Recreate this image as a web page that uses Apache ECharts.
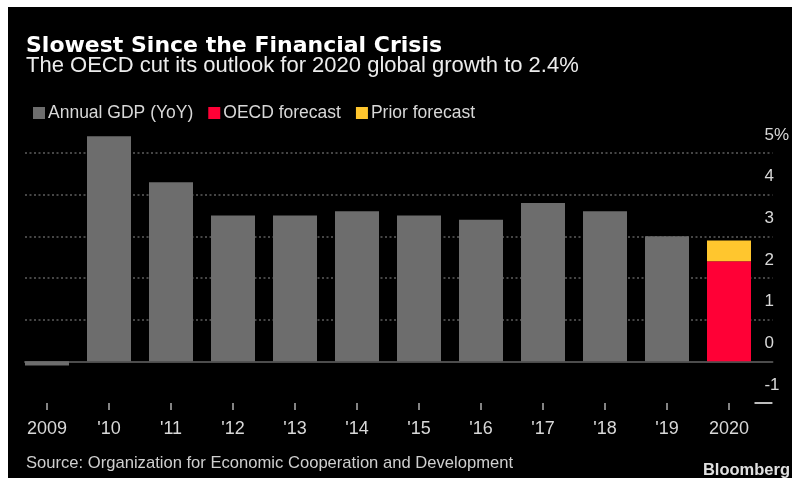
<!DOCTYPE html>
<html>
<head>
<meta charset="utf-8">
<script src="https://cdn.jsdelivr.net/npm/echarts@6/dist/echarts.min.js"></script>
<style>
html,body{margin:0;padding:0;background:#fff;}
#c{width:792px;height:478px;}
</style>
</head>
<body>
<div id="c"></div>
<script>
var categories = ['2009', "'10", "'11", "'12", "'13", "'14", "'15", "'16", "'17", "'18", "'19", '2020'];
var annualGdp = [-0.1, 5.4, 4.3, 3.5, 3.5, 3.6, 3.5, 3.4, 3.8, 3.6, 3.0, null];
var oecdForecast = [null, null, null, null, null, null, null, null, null, null, null, 2.4];
var priorForecast = [null, null, null, null, null, null, null, null, null, null, null, 2.9];
var yTicks = [-1, 0, 1, 2, 3, 4, 5];

var priorExtra = priorForecast.map(function (v, i) {
  return v == null ? null : +(v - oecdForecast[i]).toFixed(2);
});

var FONT = "'Liberation Sans', Arial, sans-serif";
var chart = echarts.init(document.getElementById('c'));
var option = {
  backgroundColor: '#000',
  animation: false,
  textStyle: { fontFamily: FONT },
  title: [
    { text: 'Slowest Since the Financial Crisis', left: 26, top: 35, padding: 0,
      textStyle: { fontFamily: "'DejaVu Sans', sans-serif", fontWeight: 'bold', fontSize: 22, color: '#fff' } },
    { text: 'The OECD cut its outlook for 2020 global growth to 2.4%', left: 26, top: 55, padding: 0,
      textStyle: { fontFamily: FONT, fontWeight: 'normal', fontSize: 22, color: '#ececec' } },
    { text: 'Source: Organization for Economic Cooperation and Development', left: 26, top: 455, padding: 0,
      textStyle: { fontFamily: FONT, fontWeight: 'normal', fontSize: 16.6, color: '#cfcfcf' } },
    { text: 'Bloomberg', right: 2, top: 462, padding: 0,
      textStyle: { fontFamily: FONT, fontWeight: 'bold', fontSize: 16.5, color: '#e0e0e0' } }
  ],
  legend: {
    left: 33, top: 104, padding: 0, itemWidth: 12, itemHeight: 12, itemGap: 15, icon: 'rect',
    textStyle: { fontFamily: FONT, fontSize: 17.5, color: '#d8d8d8', padding: [0, 0, 0, -2] },
    data: ['Annual GDP (YoY)', 'OECD forecast', 'Prior forecast']
  },
  grid: [
    { left: 16, right: 32, top: 111.33, bottom: 75 },
    { left: 25, right: 15, top: 153, bottom: 75 }
  ],
  xAxis: [
    { type: 'category', gridIndex: 0, data: categories,
      axisLine: { show: false, onZero: false },
      axisTick: { show: true, alignWithLabel: true, length: 7, lineStyle: { color: '#b0b0b0', width: 1.5 } },
      axisLabel: { margin: 17, fontFamily: FONT, fontSize: 18, color: '#d8d8d8' },
      splitLine: { show: false } },
    { type: 'value', gridIndex: 1, min: 0, max: 1, show: true,
      axisLine: { show: true, onZero: true, lineStyle: { color: '#4c4c4c', width: 2 } },
      axisTick: { show: false }, axisLabel: { show: false }, splitLine: { show: false } }
  ],
  yAxis: [
    { type: 'value', gridIndex: 0, min: -1, max: 6, interval: 1, show: false, splitLine: { show: false } },
    { type: 'value', gridIndex: 1, min: yTicks[0], max: yTicks[yTicks.length - 1], interval: 1, position: 'right',
      axisLine: { show: false }, axisTick: { show: false },
      axisLabel: { margin: -8, align: 'left', verticalAlign: 'bottom', lineHeight: 18, padding: [0, 0, 9, 0],
        fontFamily: FONT, fontSize: 17, color: '#d8d8d8',
        formatter: function (v) { return v === yTicks[yTicks.length - 1] ? v + '%' : String(v); } },
      splitLine: { show: true, lineStyle: { type: [2, 2.5], width: 1.5,
        color: ['rgba(0,0,0,0)', '#5e5e5e', '#5e5e5e', '#5e5e5e', '#5e5e5e', '#5e5e5e', '#5e5e5e'] } } }
  ],
  series: [
    { name: 'Annual GDP (YoY)', type: 'bar', xAxisIndex: 0, yAxisIndex: 0, stack: 'g', barWidth: 44,
      itemStyle: { color: '#6d6d6d' }, data: annualGdp, z: 3 },
    { name: 'OECD forecast', type: 'bar', xAxisIndex: 0, yAxisIndex: 0, stack: 'g', barWidth: 44,
      itemStyle: { color: '#ff0036' }, data: oecdForecast, z: 3 },
    { name: 'Prior forecast', type: 'bar', xAxisIndex: 0, yAxisIndex: 0, stack: 'g', barWidth: 44,
      itemStyle: { color: '#ffc62e' }, data: priorExtra, z: 3 },
    { name: 'minTick', type: 'line', xAxisIndex: 1, yAxisIndex: 1, data: [], silent: true,
      markLine: { silent: true, symbol: 'none', label: { show: false },
        lineStyle: { type: 'solid', color: '#bdbdbd', width: 2 },
        data: [[{ coord: [0.976, yTicks[0]] }, { coord: [1, yTicks[0]] }]] } }
  ],
  graphic: [
    { type: 'rect', shape: { x: 0, y: 0, width: 8, height: 478 }, style: { fill: '#fff' }, z: 100 },
    { type: 'rect', shape: { x: 0, y: 0, width: 792, height: 7 }, style: { fill: '#fff' }, z: 100 }
  ]
};
chart.setOption(option);
</script>
</body>
</html>
